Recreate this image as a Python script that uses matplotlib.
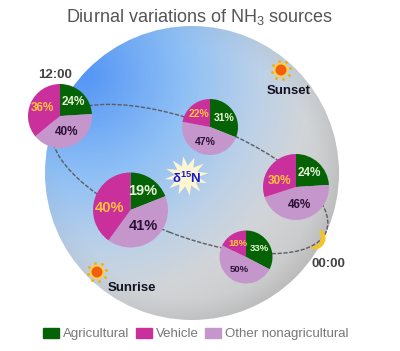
import matplotlib
matplotlib.use('Agg')
import matplotlib.pyplot as plt
import numpy as np
from matplotlib.colors import LinearSegmentedColormap
from matplotlib.patches import Circle, Ellipse, Patch, Polygon

plt.rcParams['font.family'] = ['Liberation Sans', 'DejaVu Sans']
plt.rcParams['mathtext.default'] = 'regular'

W, H = 400, 351

# Parts des sources, dans l'ordre agricole / autre / véhicule
source_names = ['Agricultural', 'Vehicle', 'Other nonagricultural']
agricultural = [24, 31, 24, 33, 19]
other = [40, 47, 46, 50, 41]
vehicle = [36, 22, 30, 18, 40]

colors = {'agri': '#056305', 'veh': '#c9309b', 'other': '#c596cc'}

# Position des camemberts (pixels de l'image) : x, y, rayon, taille du texte, décalage du texte véhicule
pies = [(60, 116, 32, 8.5, 0), (210, 127, 28, 7.5, 0), (296, 187, 33, 8.5, -6),
        (246, 257, 26.5, 6.8, 0), (130.5, 210, 37.5, 10.5, -5)]


def Y(y):
    return H - y


fig = plt.figure(figsize=(4, 3.51), dpi=100)
ax = fig.add_axes([0, 0, 1, 1])

# Grand disque avec dégradé radial bleu -> gris
cx, cy, R = 192, 173, 147
xx, yy = np.meshgrid(np.arange(W) + 0.5, np.arange(H) + 0.5)
t = np.hypot(xx - 85, yy - 75) / 290
cmap = LinearSegmentedColormap.from_list(
    'fond', [(0, '#5596f6'), (0.35, '#8fc0f5'), (0.6, '#bcd1e8'),
             (0.78, '#d2d5d8'), (1, '#c8c8c8')])
rgb = cmap(np.clip(t, 0, 1))[:, :, :3]
rr = np.hypot(xx - cx, yy - cy) / R
shade = 1 - 0.06 * np.clip((rr - 0.85) / 0.15, 0, 1) * np.clip(t, 0, 1)
img = ax.imshow(rgb * shade[:, :, None], extent=(0, W, 0, H), origin='upper',
                zorder=1, interpolation='bilinear')
img.set_clip_path(Circle((cx, Y(cy)), R, transform=ax.transData))

# Trajectoire en pointillés
ax.add_patch(Ellipse((190, Y(179)), 292, 114, angle=-21, fill=False, ec='#5a5d64',
                     lw=1.0, ls=(0, (3, 1.2)), zorder=2))

# Camemberts
for i, (x, y, r, fs, dy) in enumerate(pies):
    vals = [agricultural[i], other[i], vehicle[i]]
    ax.pie(vals, colors=[colors['agri'], colors['other'], colors['veh']],
           center=(x, Y(y)), radius=r, startangle=90, counterclock=False,
           frame=True, wedgeprops={'zorder': 3, 'lw': 0})
    cum = 0
    for v, col, dist, off in zip(vals, ['#e6f5d5', '#2a1035', '#ffc23a'], [0.6, 0.55, 0.6], [0, 0, dy]):
        a = np.deg2rad(90 - (cum + v / 2) * 3.6)
        cum += v
        ax.text(x + dist * r * np.cos(a), Y(y) + dist * r * np.sin(a) + off, f'{v}%', color=col,
                fontsize=fs, fontweight='bold', ha='center', va='center', zorder=4)

ax.set_xlim(0, W)
ax.set_ylim(0, H)
ax.set_aspect('equal')
ax.axis('off')

# Étoile centrale
angs = np.linspace(0, 2 * np.pi, 25)[:-1] + 0.15
rad = np.where(np.arange(24) % 2 == 0, 22, 11.5)
ax.add_patch(Polygon(np.c_[186.5 + rad * np.cos(angs), Y(176) + 0.9 * rad * np.sin(angs)],
                     fc='#fdf6d0', ec='none', zorder=3))
ax.text(186.5, Y(178), 'δ$^{15}$N', color='#1a1ad0', fontsize=9.5, fontweight='bold',
        ha='center', va='center', zorder=4)


def sun(x, y, r):
    a = np.linspace(0, 2 * np.pi, 9)[:-1] + 0.2
    ax.scatter(x + 1.75 * r * np.cos(a), Y(y) + 1.75 * r * np.sin(a), s=4, c='#f5b000',
               lw=0, zorder=3)
    ax.add_patch(Circle((x, Y(y)), r * 1.3, fc='#ffd23a', ec='none', zorder=3))
    ax.add_patch(Circle((x, Y(y)), r, fc='#f2600f', ec='none', zorder=3))


sun(281, 70, 5.5)
sun(97, 272, 5.5)

# Croissant de lune
th = np.linspace(-1.7, 0.7, 40)
outer = np.c_[314 + 11.5 * np.cos(th), Y(238) + 11.5 * np.sin(th)]
inner = np.c_[311 + 10 * np.cos(th[::-1]), Y(237) + 10 * np.sin(th[::-1])]
ax.add_patch(Polygon(np.r_[outer, inner], fc='#f7c41f', ec='none', zorder=3))

# Textes
ax.text(200, Y(17), 'Diurnal variations of NH$_3$ sources', color='#555555', fontsize=13,
        ha='center', va='center', zorder=5)
ax.text(55.5, Y(75), '12:00', color='#444444', fontsize=9.5, fontweight='bold', ha='center',
        va='center', zorder=5)
ax.text(328, Y(264), '00:00', color='#444444', fontsize=9.5, fontweight='bold', ha='center',
        va='center', zorder=5)
ax.text(289, Y(91), 'Sunset', color='#111122', fontsize=9.5, fontweight='bold', ha='center',
        va='center', zorder=5)
ax.text(131.5, Y(288), 'Sunrise', color='#111122', fontsize=9.5, fontweight='bold', ha='center',
        va='center', zorder=5)

# Légende
handles = [Patch(color=colors['agri']), Patch(color=colors['veh']), Patch(color=colors['other'])]
leg = ax.legend(handles, source_names, ncol=3, frameon=False, fontsize=9.5,
                loc='center left', bbox_to_anchor=(43 / W, 1 - 334 / H), borderaxespad=0,
                borderpad=0, handlelength=1.2, handleheight=0.8, handletextpad=0.35,
                columnspacing=0.45, labelcolor='#777777')

fig.savefig('out.png', dpi=100)
